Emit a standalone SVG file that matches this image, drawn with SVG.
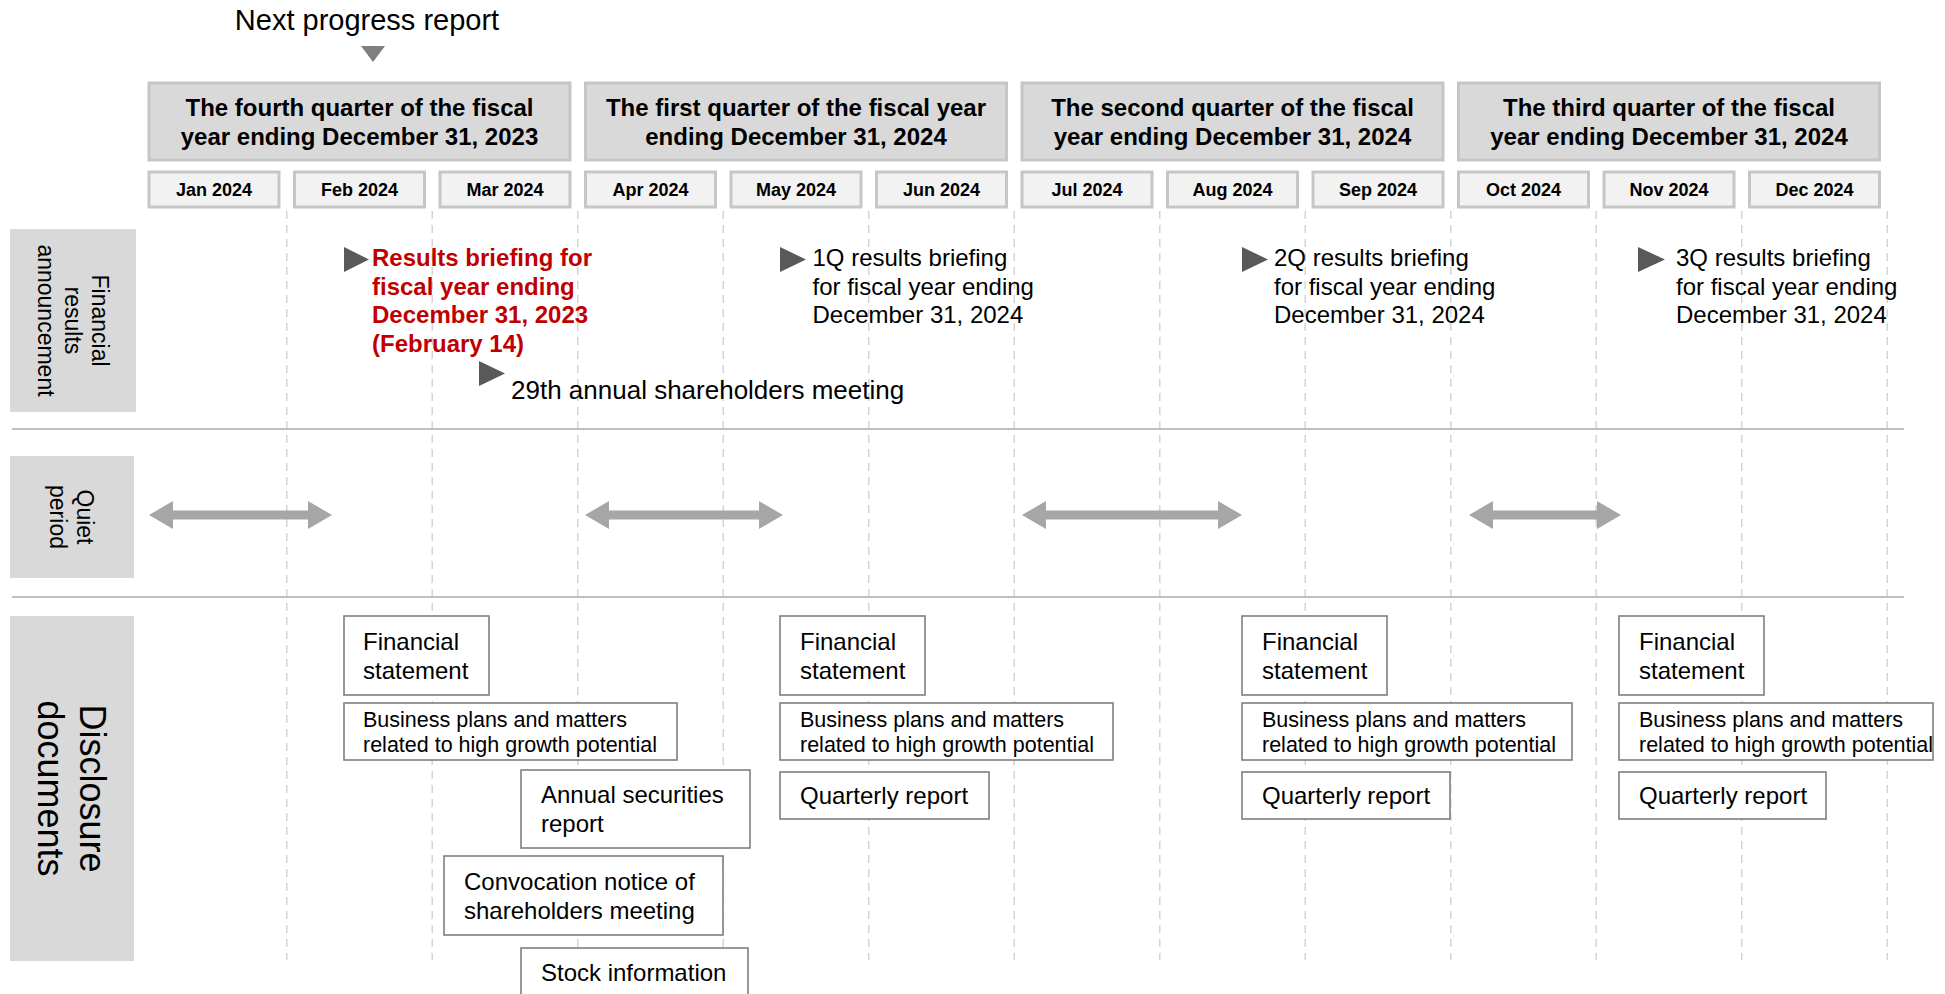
<svg xmlns="http://www.w3.org/2000/svg" width="1945" height="994" viewBox="0 0 1945 994">
<defs>
<style>
text{font-family:"Liberation Sans",Arial,sans-serif;fill:#000}
.qbox{fill:#d9d9d9;stroke:#c6c6c6;stroke-width:3}
.mbox{fill:#f2f2f2;stroke:#c6c6c6;stroke-width:3}
.qt{font-size:24px;font-weight:bold;text-anchor:middle}
.mt{font-size:18px;font-weight:bold;text-anchor:middle}
.lab{fill:#d9d9d9}
.lt{font-size:23px;text-anchor:middle}
.lt2{font-size:36px;text-anchor:middle}
.dash{stroke:#d4d4d4;stroke-width:1.5;stroke-dasharray:8 6;fill:none}
.sep{stroke:#bfbfbf;stroke-width:2}
.tri{fill:#595959}
.ev{font-size:24px}
.red{font-size:24px;font-weight:bold;fill:#c00000}
.doc{fill:#fff;stroke:#7f7f7f;stroke-width:1.6}
.dt{font-size:24px}
.ds{font-size:21.5px}
.qa{stroke:#a6a6a6;stroke-width:9;fill:none}
</style>
<marker id="ah" viewBox="0 0 24 28" refX="12" refY="14" markerWidth="24" markerHeight="28" markerUnits="userSpaceOnUse" orient="auto-start-reverse">
<path d="M0,0 L24,14 L0,28 z" fill="#a6a6a6"/>
</marker>
</defs>
<rect width="1945" height="994" fill="#fff"/>

<g id="grid">
<line class="dash" x1="286.75" y1="211" x2="286.75" y2="960"/>
<line class="dash" x1="432.25" y1="211" x2="432.25" y2="960"/>
<line class="dash" x1="577.75" y1="211" x2="577.75" y2="960"/>
<line class="dash" x1="723.25" y1="211" x2="723.25" y2="960"/>
<line class="dash" x1="868.75" y1="211" x2="868.75" y2="960"/>
<line class="dash" x1="1014.25" y1="211" x2="1014.25" y2="960"/>
<line class="dash" x1="1159.75" y1="211" x2="1159.75" y2="960"/>
<line class="dash" x1="1305.25" y1="211" x2="1305.25" y2="960"/>
<line class="dash" x1="1450.75" y1="211" x2="1450.75" y2="960"/>
<line class="dash" x1="1596.25" y1="211" x2="1596.25" y2="960"/>
<line class="dash" x1="1741.75" y1="211" x2="1741.75" y2="960"/>
<line class="dash" x1="1887.25" y1="211" x2="1887.25" y2="960"/>
<line class="sep" x1="12" y1="429" x2="1904" y2="429"/>
<line class="sep" x1="12" y1="597" x2="1904" y2="597"/>
</g>

<g id="next-report">
<text x="367" y="30" font-size="29" text-anchor="middle">Next progress report</text>
<polygon points="361,46 385,46 373,62" fill="#7f7f7f"/>
</g>

<g id="quarters">
<g id="q4-2023"><rect class="qbox" x="149" y="83" width="421" height="77"/>
<text class="qt" x="359.5" y="116">The fourth quarter of the fiscal</text><text class="qt" x="359.5" y="145">year ending December 31, 2023</text></g>
<g id="q1-2024"><rect class="qbox" x="585.5" y="83" width="421" height="77"/>
<text class="qt" x="796" y="116">The first quarter of the fiscal year</text><text class="qt" x="796" y="145">ending December 31, 2024</text></g>
<g id="q2-2024"><rect class="qbox" x="1022" y="83" width="421" height="77"/>
<text class="qt" x="1232.5" y="116">The second quarter of the fiscal</text><text class="qt" x="1232.5" y="145">year ending December 31, 2024</text></g>
<g id="q3-2024"><rect class="qbox" x="1458.5" y="83" width="421" height="77"/>
<text class="qt" x="1669" y="116">The third quarter of the fiscal</text><text class="qt" x="1669" y="145">year ending December 31, 2024</text></g>
</g>

<g id="months">
<g id="m01"><rect class="mbox" x="149" y="172" width="130" height="35"/><text class="mt" x="214" y="196">Jan 2024</text></g>
<g id="m02"><rect class="mbox" x="294.5" y="172" width="130" height="35"/><text class="mt" x="359.5" y="196">Feb 2024</text></g>
<g id="m03"><rect class="mbox" x="440" y="172" width="130" height="35"/><text class="mt" x="505" y="196">Mar 2024</text></g>
<g id="m04"><rect class="mbox" x="585.5" y="172" width="130" height="35"/><text class="mt" x="650.5" y="196">Apr 2024</text></g>
<g id="m05"><rect class="mbox" x="731" y="172" width="130" height="35"/><text class="mt" x="796" y="196">May 2024</text></g>
<g id="m06"><rect class="mbox" x="876.5" y="172" width="130" height="35"/><text class="mt" x="941.5" y="196">Jun 2024</text></g>
<g id="m07"><rect class="mbox" x="1022" y="172" width="130" height="35"/><text class="mt" x="1087" y="196">Jul 2024</text></g>
<g id="m08"><rect class="mbox" x="1167.5" y="172" width="130" height="35"/><text class="mt" x="1232.5" y="196">Aug 2024</text></g>
<g id="m09"><rect class="mbox" x="1313" y="172" width="130" height="35"/><text class="mt" x="1378" y="196">Sep 2024</text></g>
<g id="m10"><rect class="mbox" x="1458.5" y="172" width="130" height="35"/><text class="mt" x="1523.5" y="196">Oct 2024</text></g>
<g id="m11"><rect class="mbox" x="1604" y="172" width="130" height="35"/><text class="mt" x="1669" y="196">Nov 2024</text></g>
<g id="m12"><rect class="mbox" x="1749.5" y="172" width="130" height="35"/><text class="mt" x="1814.5" y="196">Dec 2024</text></g>
</g>

<g id="row-labels">
<g id="lab-results"><rect class="lab" x="10" y="229" width="126" height="183"/>
<g transform="translate(73,320.5) rotate(90)">
<text class="lt" x="0" y="-19">Financial</text><text class="lt" x="0" y="8">results</text><text class="lt" x="0" y="35">announcement</text></g></g>
<g id="lab-quiet"><rect class="lab" x="10" y="456" width="124" height="122"/>
<g transform="translate(72,517) rotate(90)">
<text class="lt" x="0" y="-5">Quiet</text><text class="lt" x="0" y="22">period</text></g></g>
<g id="lab-docs"><rect class="lab" x="10" y="616" width="124" height="345"/>
<g transform="translate(72,788.5) rotate(90)">
<text class="lt2" x="0" y="-8">Disclosure</text><text class="lt2" x="0" y="34">documents</text></g></g>
</g>

<g id="events">
<g id="ev-fy2023"><polygon class="tri" points="344,247 369,259.5 344,272"/>
<text class="red" x="372" y="266">Results briefing for</text>
<text class="red" x="372" y="294.5">fiscal year ending</text>
<text class="red" x="372" y="323">December 31, 2023</text>
<text class="red" x="372" y="351.5">(February 14)</text></g>
<g id="ev-agm"><polygon class="tri" points="479,361 505,373.5 479,386"/>
<text x="511" y="399" font-size="26">29th annual shareholders meeting</text></g>
<g id="ev-1q"><polygon class="tri" points="780,247 806,259.5 780,272"/>
<text class="ev" x="812.5" y="266">1Q results briefing</text><text class="ev" x="812.5" y="294.5">for fiscal year ending</text><text class="ev" x="812.5" y="323">December 31, 2024</text></g>
<g id="ev-2q"><polygon class="tri" points="1242,247 1268,259.5 1242,272"/>
<text class="ev" x="1274" y="266">2Q results briefing</text><text class="ev" x="1274" y="294.5">for fiscal year ending</text><text class="ev" x="1274" y="323">December 31, 2024</text></g>
<g id="ev-3q"><polygon class="tri" points="1638,247 1665,259.5 1638,272"/>
<text class="ev" x="1676" y="266">3Q results briefing</text><text class="ev" x="1676" y="294.5">for fiscal year ending</text><text class="ev" x="1676" y="323">December 31, 2024</text></g>
</g>

<g id="connectors">
<line class="qa" x1="161" y1="515" x2="320" y2="515" marker-start="url(#ah)" marker-end="url(#ah)"/>
<line class="qa" x1="597" y1="515" x2="771" y2="515" marker-start="url(#ah)" marker-end="url(#ah)"/>
<line class="qa" x1="1034" y1="515" x2="1230" y2="515" marker-start="url(#ah)" marker-end="url(#ah)"/>
<line class="qa" x1="1481" y1="515" x2="1609" y2="515" marker-start="url(#ah)" marker-end="url(#ah)"/>
</g>

<g id="docs-fy2023">
<g id="d1-fs"><rect class="doc" x="344" y="616" width="145" height="79"/><text class="dt" x="363" y="650">Financial</text><text class="dt" x="363" y="679">statement</text></g>
<g id="d1-bp"><rect class="doc" x="344" y="703" width="333" height="57"/><text class="ds" x="363" y="727">Business plans and matters</text><text class="ds" x="363" y="752">related to high growth potential</text></g>
<g id="d1-asr"><rect class="doc" x="521" y="770" width="229" height="78"/><text class="dt" x="541" y="803">Annual securities</text><text class="dt" x="541" y="832">report</text></g>
<g id="d1-conv"><rect class="doc" x="444" y="856" width="279" height="79"/><text class="dt" x="464" y="890">Convocation notice of</text><text class="dt" x="464" y="919">shareholders meeting</text></g>
<g id="d1-stock"><rect class="doc" x="521" y="948" width="227" height="60"/><text class="dt" x="541" y="981">Stock information</text></g>
</g>
<g id="docs-1q">
<g id="d2-fs"><rect class="doc" x="780" y="616" width="145" height="79"/><text class="dt" x="800" y="650">Financial</text><text class="dt" x="800" y="679">statement</text></g>
<g id="d2-bp"><rect class="doc" x="780" y="703" width="333" height="57"/><text class="ds" x="800" y="727">Business plans and matters</text><text class="ds" x="800" y="752">related to high growth potential</text></g>
<g id="d2-qr"><rect class="doc" x="780" y="772" width="209" height="47"/><text class="dt" x="800" y="804">Quarterly report</text></g>
</g>
<g id="docs-2q">
<g id="d3-fs"><rect class="doc" x="1242" y="616" width="145" height="79"/><text class="dt" x="1262" y="650">Financial</text><text class="dt" x="1262" y="679">statement</text></g>
<g id="d3-bp"><rect class="doc" x="1242" y="703" width="330" height="57"/><text class="ds" x="1262" y="727">Business plans and matters</text><text class="ds" x="1262" y="752">related to high growth potential</text></g>
<g id="d3-qr"><rect class="doc" x="1242" y="772" width="208" height="47"/><text class="dt" x="1262" y="804">Quarterly report</text></g>
</g>
<g id="docs-3q">
<g id="d4-fs"><rect class="doc" x="1619" y="616" width="145" height="79"/><text class="dt" x="1639" y="650">Financial</text><text class="dt" x="1639" y="679">statement</text></g>
<g id="d4-bp"><rect class="doc" x="1619" y="703" width="314" height="57"/><text class="ds" x="1639" y="727">Business plans and matters</text><text class="ds" x="1639" y="752">related to high growth potential</text></g>
<g id="d4-qr"><rect class="doc" x="1619" y="772" width="207" height="47"/><text class="dt" x="1639" y="804">Quarterly report</text></g>
</g>
</svg>
